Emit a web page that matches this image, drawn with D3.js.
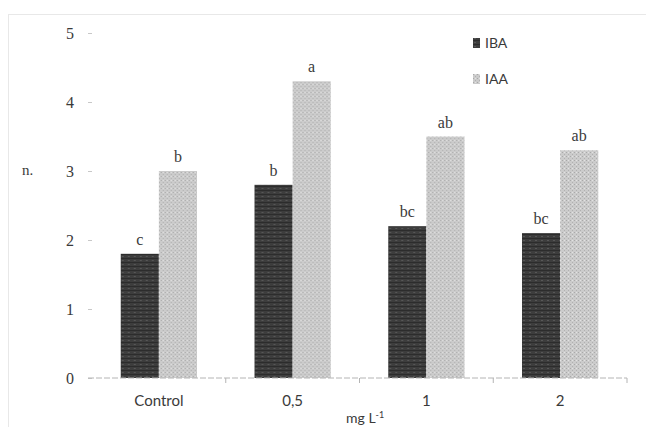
<!DOCTYPE html>
<html>
<head>
<meta charset="utf-8">
<script src="https://cdn.jsdelivr.net/npm/d3@7"></script>
<style>
  body { margin: 0; background: #fff; }
  svg { display: block; }
</style>
</head>
<body>
<svg id="svg"></svg>
<script>
// values
const categories = ['Control', '0,5', '1', '2'];
const seriesNames = ['IBA', 'IAA'];
const ibaValues = [1.8, 2.8, 2.2, 2.1];
const iaaValues = [3.0, 4.3, 3.5, 3.3];
const ibaLetters = ['c', 'b', 'bc', 'bc'];
const iaaLetters = ['b', 'a', 'ab', 'ab'];
const yTicks = [0, 1, 2, 3, 4, 5];

var svgWidth = 646, svgHeight = 427;
var svg = d3.select('#svg').attr('width', svgWidth).attr('height', svgHeight);

// textures for the two bar fills
var defs = svg.append('defs');
var pIba = defs.append('pattern').attr('id', 'pat-iba').attr('patternUnits', 'userSpaceOnUse')
    .attr('width', 6).attr('height', 4);
pIba.append('rect').attr('width', 6).attr('height', 4).attr('fill', '#3d3d3d');
pIba.append('rect').attr('y', 2).attr('width', 6).attr('height', 1).attr('fill', '#2c2c2c');
pIba.append('rect').attr('x', 1).attr('y', 0).attr('width', 2).attr('height', 1).attr('fill', '#575757');

var pIaa = defs.append('pattern').attr('id', 'pat-iaa').attr('patternUnits', 'userSpaceOnUse')
    .attr('width', 4).attr('height', 4);
pIaa.append('rect').attr('width', 4).attr('height', 4).attr('fill', '#cbcbcb');
pIaa.append('rect').attr('x', 0).attr('y', 0).attr('width', 1).attr('height', 1).attr('fill', '#a9a9a9');
pIaa.append('rect').attr('x', 2).attr('y', 2).attr('width', 1).attr('height', 1).attr('fill', '#b0b0b0');
pIaa.append('rect').attr('x', 2).attr('y', 0).attr('width', 1).attr('height', 1).attr('fill', '#e2e2e2');

// faint outer frame
svg.append('rect').attr('x', 8.5).attr('y', 14.5).attr('width', 660).attr('height', 440)
    .attr('fill', 'none').attr('stroke', '#e8e8e8');

var x = d3.scaleBand().domain(categories).range([92, 627]).paddingInner(0.43).paddingOuter(0.215);
var xs = d3.scaleBand().domain(seriesNames).range([0, x.bandwidth()]);
var y = d3.scaleLinear().domain([0, 5]).range([378, 33]);

var fills = { IBA: 'url(#pat-iba)', IAA: 'url(#pat-iaa)' };

var rows = categories.map((c, i) => ({
    cat: c,
    vals: [
        { key: 'IBA', v: ibaValues[i], letter: ibaLetters[i] },
        { key: 'IAA', v: iaaValues[i], letter: iaaLetters[i] }
    ]
}));

// y axis: labels and small ticks only
var yAxis = svg.append('g').attr('transform', 'translate(92,0)')
    .call(d3.axisLeft(y).tickValues(yTicks).tickSize(4).tickPadding(14).tickFormat(d3.format('d')));
yAxis.select('.domain').remove();
yAxis.selectAll('line').attr('stroke', '#c8c8c8');
yAxis.selectAll('text').attr('font-family', 'Liberation Serif, serif').attr('font-size', 16)
    .attr('fill', '#3a3a3a');

var groups = svg.append('g').selectAll('g').data(rows).join('g')
    .attr('transform', d => 'translate(' + x(d.cat) + ',0)');

groups.selectAll('rect').data(d => d.vals).join('rect')
    .attr('x', d => xs(d.key))
    .attr('y', d => y(d.v))
    .attr('width', xs.bandwidth())
    .attr('height', d => y(0) - y(d.v))
    .attr('fill', d => fills[d.key]);

groups.selectAll('text').data(d => d.vals).join('text')
    .attr('x', d => xs(d.key) + xs.bandwidth() / 2)
    .attr('y', d => y(d.v) - 9)
    .attr('text-anchor', 'middle')
    .attr('font-family', 'Liberation Serif, serif')
    .attr('font-size', 16)
    .attr('fill', '#3a3a3a')
    .text(d => d.letter);

// x axis with ticks between the groups
var xTickScale = d3.scaleLinear().domain([0, categories.length]).range([92, 627]);
var xAxis = svg.append('g').attr('transform', 'translate(0,378)');
xAxis.append('line').attr('x1', 88).attr('x2', 627).attr('stroke', '#b4b4b4').attr('stroke-dasharray', '6,2');
xAxis.selectAll('.tk').data(d3.range(1, categories.length + 1)).join('line').attr('class', 'tk')
    .attr('x1', d => xTickScale(d)).attr('x2', d => xTickScale(d))
    .attr('y1', 0).attr('y2', 5).attr('stroke', '#b4b4b4');

svg.append('g').selectAll('text').data(categories).join('text')
    .attr('x', d => x(d) + x.bandwidth() / 2)
    .attr('y', 406)
    .attr('text-anchor', 'middle')
    .attr('font-family', 'Lato, sans-serif')
    .attr('font-size', 15)
    .attr('fill', '#3a3a3a')
    .text(d => d);

// axis titles
svg.append('text').attr('x', 22).attr('y', 175)
    .attr('font-family', 'Liberation Serif, serif').attr('font-size', 15)
    .attr('fill', '#3a3a3a').text('n.');

var xt = svg.append('text').attr('x', 346).attr('y', 423)
    .attr('font-family', 'Lato, sans-serif').attr('font-size', 14).attr('fill', '#3a3a3a');
xt.append('tspan').text('mg L');
xt.append('tspan').attr('dy', -5).attr('font-size', 9).text('-1');

// legend
var legend = svg.append('g').selectAll('g').data(seriesNames).join('g')
    .attr('transform', (d, i) => 'translate(473,' + (38 + i * 36) + ')');
legend.append('rect').attr('width', 7).attr('height', 10).attr('fill', d => fills[d]);
legend.append('text').attr('x', 12).attr('y', 10)
    .attr('font-family', 'Lato, sans-serif').attr('font-size', 14).attr('fill', '#3a3a3a')
    .text(d => d);
</script>
</body>
</html>
